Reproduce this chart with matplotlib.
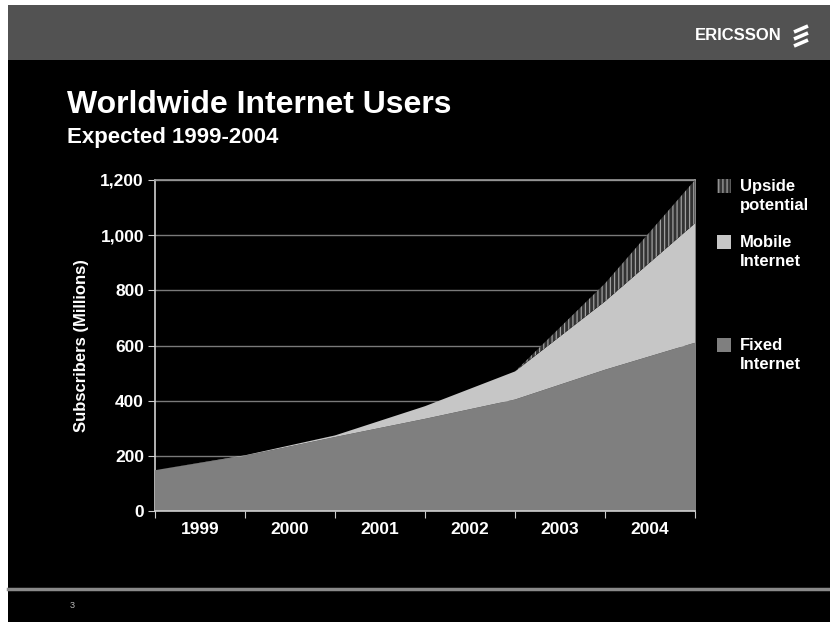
import matplotlib.pyplot as plt
import numpy as np
from matplotlib.patches import Rectangle
from matplotlib.lines import Line2D

plt.rcParams['font.family'] = ['Liberation Sans', 'DejaVu Sans']
plt.rcParams['hatch.linewidth'] = 0.9

# year boundaries (start of 1999 ... end of 2004)
x_pts = [0, 1, 2, 3, 4, 5, 6]
years = ['1999', '2000', '2001', '2002', '2003', '2004']
fixed = [148, 200, 268, 334, 404, 512, 610]
mobile = [0, 2, 6, 46, 102, 248, 433]
upside = [0, 0, 0, 0, 0, 65, 157]

fixed = np.array(fixed)
mob_top = fixed + np.array(mobile)
up_top = mob_top + np.array(upside)

fig = plt.figure(figsize=(8.3, 6.22), dpi=100, facecolor='white')

# slide background: black body + gray header band
fig.patches.append(Rectangle((8 / 830, 0), 1, 1 - 5 / 622, transform=fig.transFigure,
                             facecolor='black', edgecolor='none', zorder=-3))
fig.patches.append(Rectangle((8 / 830, 1 - 60 / 622), 1, 55 / 622, transform=fig.transFigure,
                             facecolor='#525252', edgecolor='none', zorder=-2))
fig.lines.append(Line2D([8 / 830, 1], [1 - 589 / 622] * 2, transform=fig.transFigure,
                        color='#8a8a8a', lw=2.5))

# Ericsson logo
fig.text(782 / 830, 1 - 36 / 622, 'ERICSSON', color='white', fontsize=12,
         fontweight='bold', ha='right', va='center')
for dy in (-7, 0, 7):
    fig.lines.append(Line2D([794 / 830, 808 / 830], [1 - (36 + dy + 3) / 622, 1 - (36 + dy - 3) / 622],
                            transform=fig.transFigure, color='white', lw=2.6,
                            solid_capstyle='butt'))

fig.text(67 / 830, 1 - 113 / 622, 'Worldwide Internet Users', color='white',
         fontsize=23, fontweight='bold', ha='left', va='baseline')
fig.text(67 / 830, 1 - 143 / 622, 'Expected 1999-2004', color='white',
         fontsize=16, fontweight='bold', ha='left', va='baseline')
fig.text(70 / 830, 1 - 605 / 622, '3', color='#bbbbbb', fontsize=6.5, ha='left', va='center')

ax = fig.add_axes([155 / 830, 1 - 511 / 622, 540 / 830, 331 / 622])
ax.set_facecolor('black')

ax.fill_between(x_pts, 0, fixed, facecolor='#7f7f7f', edgecolor='none', zorder=3)
ax.fill_between(x_pts, fixed, mob_top, facecolor='#c6c6c6', edgecolor='none', zorder=3)
ax.fill_between(x_pts, mob_top, up_top, facecolor='#333333', edgecolor='#a0a0a0',
                hatch='||||', linewidth=0, zorder=3)

ax.set_xlim(0, 6)
ax.set_ylim(0, 1200)
ax.set_yticks(range(0, 1201, 200))
ax.set_yticklabels(['0', '200', '400', '600', '800', '1,000', '1,200'])
ax.yaxis.grid(True, color='#7a7a7a', lw=1)
ax.set_axisbelow(True)

ax.set_xticks(x_pts)
ax.set_xticklabels([])
ax.set_xticks([i + 0.5 for i in range(6)], minor=True)
ax.set_xticklabels(years, minor=True)
ax.tick_params(axis='x', which='minor', length=0, pad=8)
ax.tick_params(axis='x', which='major', length=5, color='#cccccc', direction='out')
ax.tick_params(axis='y', length=5, color='#cccccc', pad=3)
for lab in ax.get_xticklabels(minor=True) + ax.get_yticklabels():
    lab.set_color('white')
    lab.set_fontweight('bold')
    lab.set_fontsize(12.5)

for s in ('left', 'bottom'):
    ax.spines[s].set_color('#d0d0d0')
    ax.spines[s].set_linewidth(1.2)
for s in ('top', 'right'):
    ax.spines[s].set_color('#9a9a9a')
    ax.spines[s].set_linewidth(1.2)
ax.spines['bottom'].set_zorder(4)

ax.set_ylabel('Subscribers (Millions)', color='white', fontsize=12, fontweight='bold',
              labelpad=8)

# legend
legend_items = [('Upside\npotential', '#333333', '||||', 179),
                ('Mobile\nInternet', '#c6c6c6', None, 235),
                ('Fixed\nInternet', '#7f7f7f', None, 338)]
for label, col, hat, ytop in legend_items:
    fig.patches.append(Rectangle((717 / 830, 1 - (ytop + 14) / 622), 14 / 830, 14 / 622,
                                 transform=fig.transFigure, facecolor=col,
                                 edgecolor='#a0a0a0' if hat else 'none', hatch=hat, lw=0))
    fig.text(740 / 830, 1 - (ytop + 0) / 622, label, color='white', fontsize=12,
             fontweight='bold', ha='left', va='top', linespacing=1.3)

fig.savefig('out.png', dpi=100, facecolor=fig.get_facecolor())
